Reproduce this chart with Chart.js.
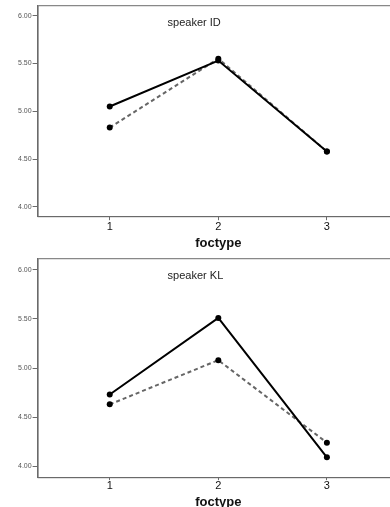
<!DOCTYPE html>
<html lang="en">
<head>
  <meta charset="UTF-8">
  <title>foctype by speaker</title>
  <script src="https://cdn.jsdelivr.net/npm/chart.js"></script>
  <style>
    html, body {
      margin: 0;
      padding: 0;
      background: #fff;
      overflow: hidden;
      width: 390px;
      height: 507px;
    }

    .chart-container {
      width: 403px;
      position: relative;
    }

    #top { height: 253px; }
    #bottom { height: 259px; }
  </style>
</head>
<body>

  <div class="chart-container" id="top">
    <canvas id="chartID"></canvas>
  </div>

  <div class="chart-container" id="bottom">
    <canvas id="chartKL"></canvas>
  </div>

  <script>
    // data
    const categories = [1, 2, 3];
    const yTicks = [4.0, 4.5, 5.0, 5.5, 6.0];
    const idSolid = [5.05, 5.53, 4.58];
    const idDashed = [4.83, 5.55, 4.58];
    const klSolid = [4.73, 5.51, 4.09];
    const klDashed = [4.63, 5.08, 4.24];

    const font = "'Liberation Sans', Arial, sans-serif";

    // panel label + frame around the plot
    const panelPlugin = {
      id: 'panel',
      afterDraw(chart, args, opts) {
        const { ctx, chartArea } = chart;
        ctx.save();
        ctx.strokeStyle = '#6b6b6b';
        ctx.lineWidth = 1;
        ctx.strokeRect(chartArea.left + 0.5, chartArea.top + 0.5,
          chartArea.right - chartArea.left, chartArea.bottom - chartArea.top);
        ctx.fillStyle = '#222';
        ctx.font = '11px ' + font;
        ctx.textBaseline = 'middle';
        ctx.fillText(opts.text, chartArea.left + 130, chartArea.top + 18);
        ctx.restore();
      }
    };

    function toPoints(vals) {
      return categories.map((c, i) => ({ x: c, y: vals[i] }));
    }

    function makeChart(id, label, solid, dashed, yMin, yMax, axis) {
      return new Chart(document.getElementById(id).getContext('2d'), {
        type: 'line',
        data: {
          datasets: [
            {
              label: 'solid',
              data: toPoints(solid),
              borderColor: '#000',
              backgroundColor: '#000',
              borderWidth: 2,
              pointRadius: 3,
              pointBackgroundColor: '#000',
              pointBorderWidth: 0
            },
            {
              label: 'dashed',
              data: toPoints(dashed),
              borderColor: '#666',
              backgroundColor: '#000',
              borderWidth: 2,
              borderDash: [4, 3],
              pointRadius: 3,
              pointBackgroundColor: '#000',
              pointBorderWidth: 0
            }
          ]
        },
        options: {
          responsive: true,
          maintainAspectRatio: false,
          animation: false,
          layout: {
            padding: { left: 17, right: 2, top: 5, bottom: 0 }
          },
          plugins: {
            legend: { display: false },
            tooltip: { enabled: false },
            panel: { text: label }
          },
          scales: {
            x: {
              type: 'linear',
              min: 0.336,
              max: 3.664,
              afterBuildTicks: s => { s.ticks = categories.map(v => ({ value: v })); },
              grid: { drawOnChartArea: false, tickLength: axis.tick, color: '#6b6b6b' },
              border: { color: '#6b6b6b' },
              ticks: { color: '#111', font: { family: font, size: 11 }, padding: axis.pad },
              title: {
                display: true,
                text: 'foctype',
                color: '#111',
                font: { family: font, size: 13, weight: 'bold' },
                padding: { top: axis.titleTop, bottom: 2 }
              }
            },
            y: {
              min: yMin,
              max: yMax,
              afterBuildTicks: s => { s.ticks = yTicks.map(v => ({ value: v })); },
              grid: { drawOnChartArea: false, tickLength: 5, color: '#6b6b6b' },
              border: { color: '#6b6b6b' },
              ticks: {
                color: '#555',
                font: { family: font, size: 7 },
                padding: 1,
                callback: v => Number(v).toFixed(2)
              }
            }
          }
        },
        plugins: [panelPlugin]
      });
    }

    makeChart('chartID', 'speaker ID', idSolid, idDashed, 3.903, 6.109,
      { tick: 4, pad: 0, titleTop: 2 });
    makeChart('chartKL', 'speaker KL', klSolid, klDashed, 3.888, 6.119,
      { tick: 3, pad: -1, titleTop: 3 });
  </script>
</body>
</html>
